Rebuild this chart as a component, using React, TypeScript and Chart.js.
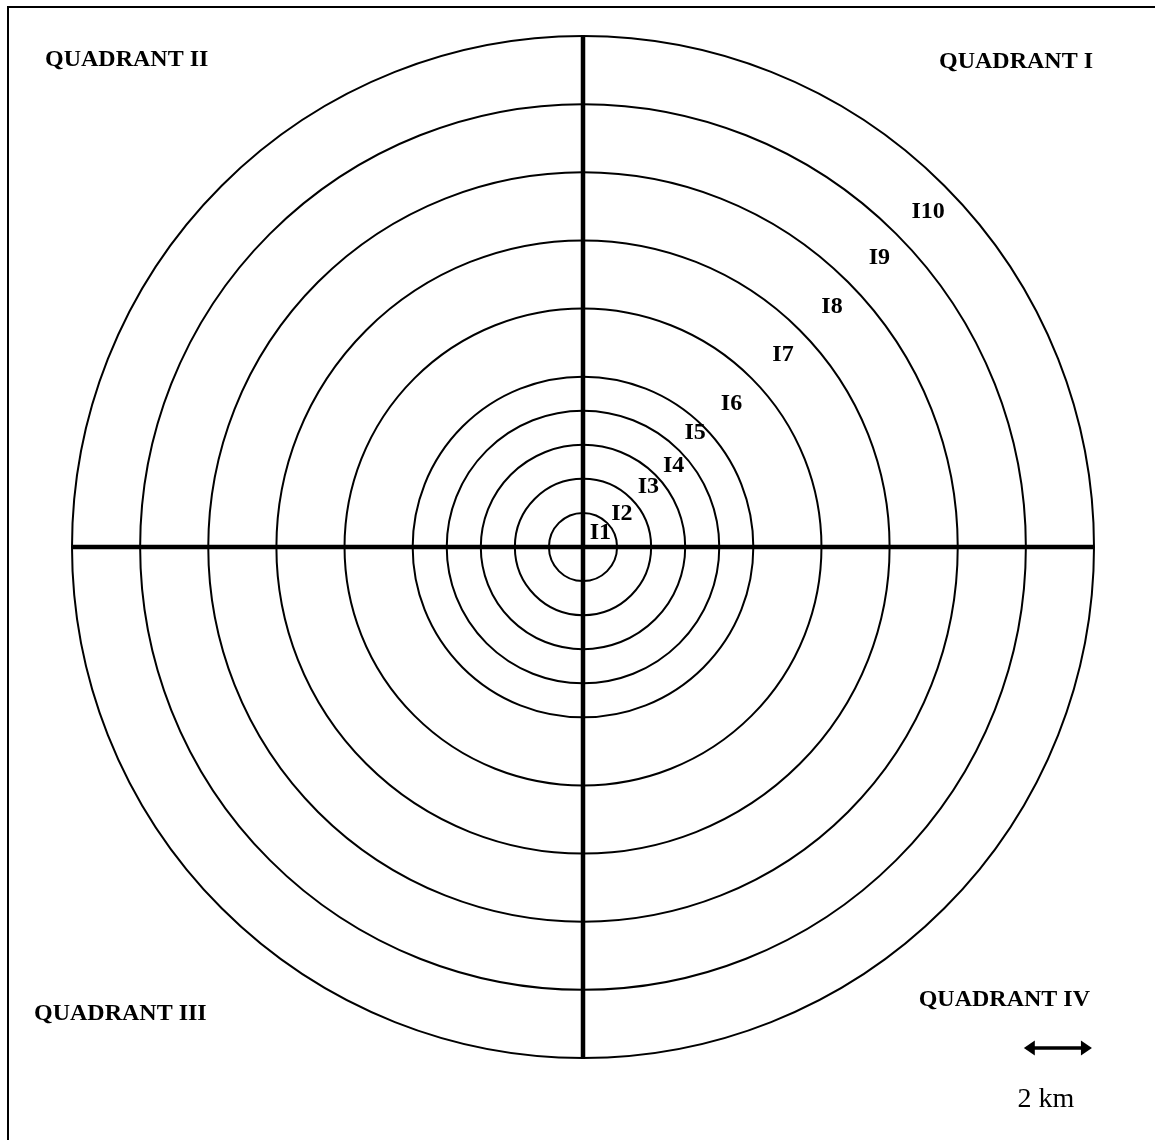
import React, { useEffect, useRef } from "react";
import { Chart, registerables } from "chart.js";

Chart.register(...registerables);

// ---- data ----
const ringLabels = ["I1", "I2", "I3", "I4", "I5", "I6", "I7", "I8", "I9", "I10"];
const ringRadiiKm = [1, 2, 3, 4, 5, 7, 9, 11, 13, 15];
const ringLabelXKm = [0.51, 1.14, 1.92, 2.66, 3.29, 4.36, 5.87, 7.31, 8.7, 10.13];
const ringLabelYKm = [0.23, 0.79, 1.58, 2.2, 3.17, 4.02, 5.46, 6.87, 8.31, 9.66];
const quadrantLabels = ["QUADRANT I", "QUADRANT II", "QUADRANT III", "QUADRANT IV"];
const scaleBarKm = 2;
const scaleBarText = "2 km";

// ---- layout ----
const W = 1155;
const H = 1140;
const CX = 583;
const CY = 547;
const PX_PER_KM = 511 / 15;
const SERIF = '"Liberation Serif", "Times New Roman", serif';

const outerKm = ringRadiiKm[ringRadiiKm.length - 1];

const overlayPlugin = {
  id: "overlay",
  beforeDatasetsDraw(chart: any) {
    const ctx = chart.ctx as CanvasRenderingContext2D;
    const xs = chart.scales.x;
    const ys = chart.scales.y;
    const cx = xs.getPixelForValue(0);
    const cy = ys.getPixelForValue(0);
    ctx.save();
    // frame
    ctx.strokeStyle = "#000";
    ctx.lineWidth = 2;
    ctx.beginPath();
    ctx.moveTo(8, H + 5);
    ctx.lineTo(8, 7);
    ctx.lineTo(W + 5, 7);
    ctx.stroke();
    // rings
    ctx.lineWidth = 2;
    ringRadiiKm.forEach((r) => {
      const rp = xs.getPixelForValue(r) - cx;
      ctx.beginPath();
      ctx.arc(cx, cy, rp, 0, Math.PI * 2);
      ctx.stroke();
    });
    ctx.restore();
  },
  afterDatasetsDraw(chart: any) {
    const ctx = chart.ctx as CanvasRenderingContext2D;
    const xs = chart.scales.x;
    const ys = chart.scales.y;
    ctx.save();
    ctx.fillStyle = "#000";
    ctx.strokeStyle = "#000";
    // ring labels
    ctx.font = `bold 24px ${SERIF}`;
    ctx.textAlign = "center";
    ctx.textBaseline = "alphabetic";
    ringLabels.forEach((t, i) => {
      ctx.fillText(t, xs.getPixelForValue(ringLabelXKm[i]), ys.getPixelForValue(ringLabelYKm[i]));
    });
    // quadrant labels
    ctx.textAlign = "right";
    ctx.fillText(quadrantLabels[0], 1093, 68);
    ctx.textAlign = "left";
    ctx.fillText(quadrantLabels[1], 45, 66);
    ctx.fillText(quadrantLabels[2], 34, 1020);
    ctx.textAlign = "right";
    ctx.fillText(quadrantLabels[3], 1090, 1006);
    // scale bar
    const x0 = xs.getPixelForValue(outerKm - 0.06 - scaleBarKm);
    const x1 = xs.getPixelForValue(outerKm - 0.06);
    const y = 1048;
    const head = 11;
    const half = 7.5;
    ctx.lineWidth = 3.5;
    ctx.beginPath();
    ctx.moveTo(x0 + head - 1, y);
    ctx.lineTo(x1 - head + 1, y);
    ctx.stroke();
    ctx.beginPath();
    ctx.moveTo(x0, y);
    ctx.lineTo(x0 + head, y - half);
    ctx.lineTo(x0 + head, y + half);
    ctx.closePath();
    ctx.fill();
    ctx.beginPath();
    ctx.moveTo(x1, y);
    ctx.lineTo(x1 - head, y - half);
    ctx.lineTo(x1 - head, y + half);
    ctx.closePath();
    ctx.fill();
    ctx.font = `28px ${SERIF}`;
    ctx.textAlign = "center";
    ctx.fillText(scaleBarText, (x0 + x1) / 2 - 12, 1107);
    ctx.restore();
  },
};

export default function App() {
  const ref = useRef<HTMLCanvasElement | null>(null);
  useEffect(() => {
    if (!ref.current) return;
    const chart = new Chart(ref.current, {
      type: "scatter",
      data: {
        datasets: [
          {
            label: "EW",
            data: [
              { x: -outerKm, y: 0 },
              { x: outerKm, y: 0 },
            ],
            showLine: true,
            borderColor: "#000",
            borderWidth: 4.5,
            pointRadius: 0,
          },
          {
            label: "NS",
            data: [
              { x: 0, y: -outerKm },
              { x: 0, y: outerKm },
            ],
            showLine: true,
            borderColor: "#000",
            borderWidth: 4.5,
            pointRadius: 0,
          },
        ],
      },
      options: {
        responsive: false,
        animation: false,
        devicePixelRatio: 1,
        layout: { padding: 0 },
        plugins: { legend: { display: false }, tooltip: { enabled: false } },
        scales: {
          x: { type: "linear", display: false, min: -CX / PX_PER_KM, max: (W - CX) / PX_PER_KM },
          y: { type: "linear", display: false, min: -(H - CY) / PX_PER_KM, max: CY / PX_PER_KM },
        },
      },
      plugins: [overlayPlugin],
    });
    return () => chart.destroy();
  }, []);
  return (
    <div style={{ position: "absolute", left: 0, top: 0, width: W, height: H, background: "#fff" }}>
      <canvas ref={ref} width={W} height={H} style={{ display: "block", width: W, height: H }} />
    </div>
  );
}
